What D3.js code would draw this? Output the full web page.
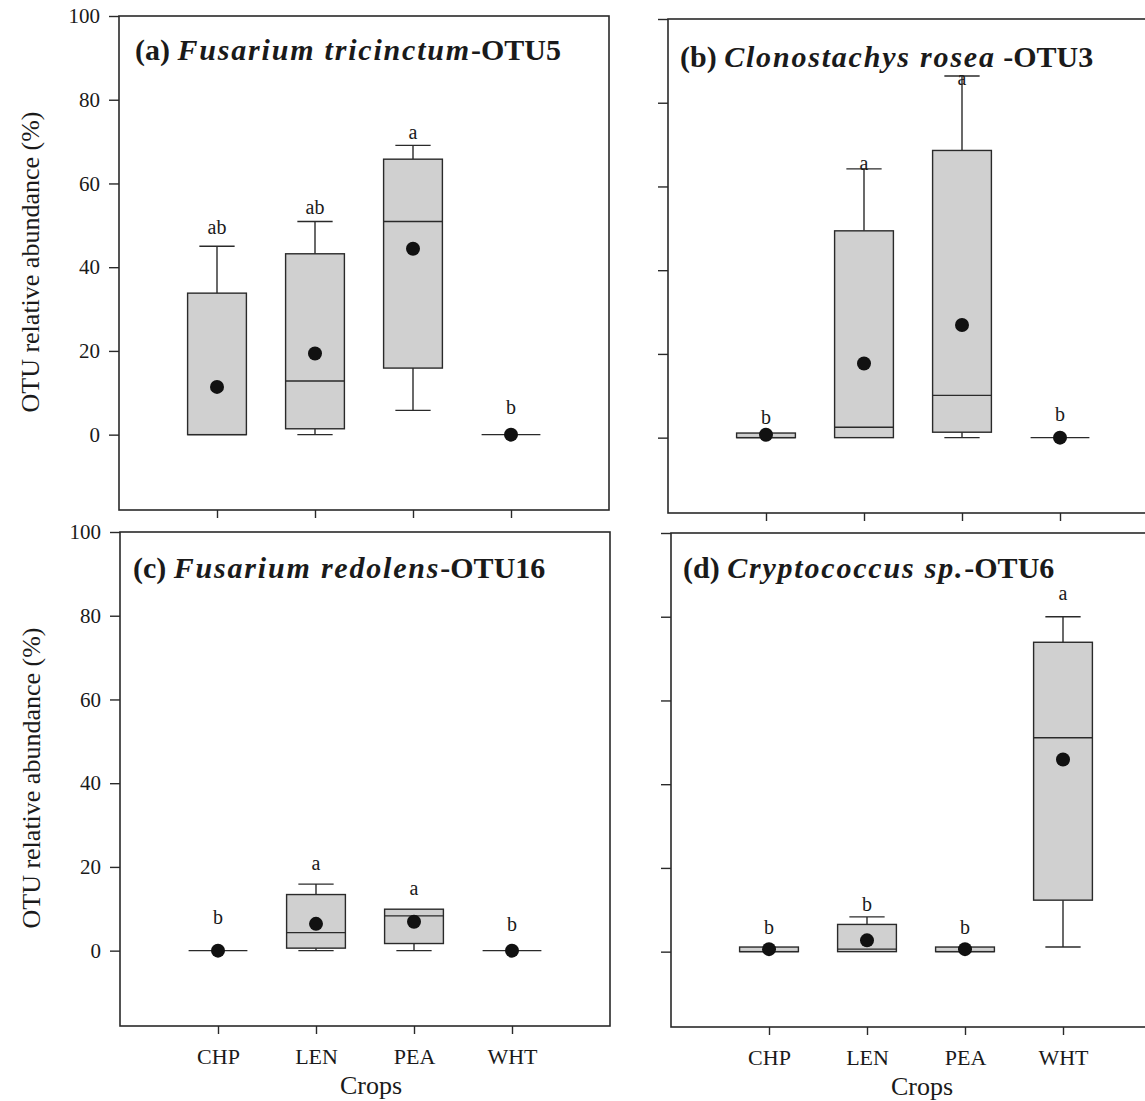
<!DOCTYPE html>
<html>
<head>
<meta charset="utf-8">
<script src="https://cdn.jsdelivr.net/npm/d3@7"></script>
<style>
  body { margin: 0; background: #fff; }
  svg text { font-family: "Liberation Serif", "Times New Roman", serif; fill: #1a1a1a; }
</style>
</head>
<body>
<div class="canvas"></div>
<script>
// categories and tick labels
const crops = ['CHP', 'LEN', 'PEA', 'WHT'];
const yTicks = [0, 20, 40, 60, 80, 100];

// (a) Fusarium tricinctum - OTU5
const lowA = [0, 0, 5.8, 0];
const q1A = [0, 1.4, 15.9, 0];
const medA = [0, 12.8, 50.9, 0];
const q3A = [33.8, 43.2, 65.8, 0];
const highA = [45, 50.9, 69.1, 0];
const meanA = [11.4, 19.4, 44.4, 0];
const lettersA = ['ab', 'ab', 'a', 'b'];
const letterAtA = [49.7, 54.4, 72.4, 6.5];

// (b) Clonostachys rosea - OTU3
const lowB = [0, 0, 0, 0];
const q1B = [0, 0, 1.3, 0];
const medB = [0, 2.5, 10.1, 0];
const q3B = [1.1, 49.4, 68.6, 0];
const highB = [1.1, 64.2, 86.4, 0];
const meanB = [0.7, 17.7, 26.9, 0];
const lettersB = ['b', 'a', 'a', 'b'];
const letterAtB = [4.9, 65.5, 85.9, 5.7];

// (c) Fusarium redolens - OTU16
const lowC = [0, 0, 0, 0];
const q1C = [0, 0.6, 1.7, 0];
const medC = [0, 4.3, 8.3, 0];
const q3C = [0, 13.4, 9.9, 0];
const highC = [0, 15.9, 9.9, 0];
const meanC = [0, 6.4, 6.9, 0];
const lettersC = ['b', 'a', 'a', 'b'];
const letterAtC = [8, 21, 15, 6.4];

// (d) Cryptococcus sp. - OTU6
const lowD = [0, 0, 0, 1.1];
const q1D = [0, 0, 0, 12.3];
const medD = [0, 0.6, 0, 51.1];
const q3D = [1.1, 6.5, 1.1, 73.9];
const highD = [1.1, 8.3, 1.1, 80];
const meanD = [0.6, 2.7, 0.6, 45.9];
const lettersD = ['b', 'b', 'b', 'a'];
const letterAtD = [6, 11.5, 6, 85.6];

const build = (low, q1, med, q3, high, mean, letters, letterAt) =>
  crops.map((c, i) => ({
    crop: c, low: low[i], q1: q1[i], med: med[i], q3: q3[i],
    high: high[i], mean: mean[i], letter: letters[i], letterAt: letterAt[i]
  }));

const panels = [
  { left: 119, top: 16, title: [['(a) ', false], ['Fusarium tricinctum', true], ['-OTU5', false]],
    tx: 16, ty: 44, yLabels: true, xLabels: false,
    data: build(lowA, q1A, medA, q3A, highA, meanA, lettersA, letterAtA) },
  { left: 668, top: 19, title: [['(b) ', false], ['Clonostachys rosea', true], [' -OTU3', false]],
    tx: 12, ty: 48, yLabels: false, xLabels: false,
    data: build(lowB, q1B, medB, q3B, highB, meanB, lettersB, letterAtB) },
  { left: 120, top: 532, title: [['(c) ', false], ['Fusarium redolens', true], ['-OTU16', false]],
    tx: 13, ty: 46, yLabels: true, xLabels: true,
    data: build(lowC, q1C, medC, q3C, highC, meanC, lettersC, letterAtC) },
  { left: 671, top: 533, title: [['(d) ', false], ['Cryptococcus sp.', true], ['-OTU6', false]],
    tx: 12, ty: 45, yLabels: false, xLabels: true,
    data: build(lowD, q1D, medD, q3D, highD, meanD, lettersD, letterAtD) }
];

// set up dimensions
const width = 1145;
const height = 1101;
const graphWidth = 490;
const graphHeight = 494;
const ink = '#2a2a2a';

const svg = d3
  .select('.canvas')
  .append('svg')
  .attr('width', width)
  .attr('height', height);

// scales shared by every panel
const x = d3.scalePoint().domain(crops).range([0, graphWidth]).padding(1);
const y = d3.scaleLinear().domain([-18, 100]).range([graphHeight, 0]);
const boxW = x.step() * 0.6;
const capW = x.step() * 0.36;

panels.forEach(p => {
  const graph = svg.append('g').attr('transform', `translate(${p.left}, ${p.top})`);

  // axes
  const yAxis = d3.axisLeft(y).tickValues(yTicks).tickSize(10).tickPadding(9)
    .tickFormat(p.yLabels ? d3.format('d') : '');
  const yAxisGroup = graph.append('g').call(yAxis);
  yAxisGroup.select('.domain').remove();
  yAxisGroup.selectAll('line').attr('stroke', ink).attr('stroke-width', 1.4);
  yAxisGroup.selectAll('text').attr('font-size', 21).attr('fill', '#1a1a1a')
    .attr('font-family', '"Liberation Serif", serif');

  const xAxis = d3.axisBottom(x).tickSize(8).tickPadding(14)
    .tickFormat(p.xLabels ? d => d : '');
  const xAxisGroup = graph.append('g').attr('transform', `translate(0, ${graphHeight})`).call(xAxis);
  xAxisGroup.select('.domain').remove();
  xAxisGroup.selectAll('line').attr('stroke', ink).attr('stroke-width', 1.4);
  xAxisGroup.selectAll('text').attr('font-size', 22).attr('fill', '#1a1a1a')
    .attr('font-family', '"Liberation Serif", serif');

  // frame
  graph.append('rect')
    .attr('width', graphWidth).attr('height', graphHeight)
    .attr('fill', 'none').attr('stroke', ink).attr('stroke-width', 1.6);

  // title
  const title = graph.append('text')
    .attr('x', p.tx).attr('y', p.ty)
    .attr('font-size', 30).attr('font-weight', 'bold');
  p.title.forEach(([t, it]) => {
    title.append('tspan').text(t)
      .attr('font-style', it ? 'italic' : 'normal')
      .attr('letter-spacing', it ? 1.8 : 0);
  });

  const groups = graph.selectAll('g.crop').data(p.data).enter()
    .append('g').attr('class', 'crop')
    .attr('transform', d => `translate(${x(d.crop)}, 0)`);

  // upper whiskers
  const up = groups.filter(d => d.high > d.q3);
  up.append('line').attr('y1', d => y(d.q3)).attr('y2', d => y(d.high))
    .attr('stroke', ink).attr('stroke-width', 1.4);
  up.append('line').attr('x1', -capW / 2).attr('x2', capW / 2)
    .attr('y1', d => y(d.high)).attr('y2', d => y(d.high))
    .attr('stroke', ink).attr('stroke-width', 1.4);

  // lower whiskers
  const down = groups.filter(d => d.low < d.q1);
  down.append('line').attr('y1', d => y(d.q1)).attr('y2', d => y(d.low))
    .attr('stroke', ink).attr('stroke-width', 1.4);
  down.append('line').attr('x1', -capW / 2).attr('x2', capW / 2)
    .attr('y1', d => y(d.low)).attr('y2', d => y(d.low))
    .attr('stroke', ink).attr('stroke-width', 1.4);

  // boxes
  groups.append('rect')
    .attr('x', -boxW / 2).attr('width', boxW)
    .attr('y', d => y(d.q3)).attr('height', d => y(d.q1) - y(d.q3))
    .attr('fill', '#d0d0d0').attr('stroke', ink).attr('stroke-width', 1.4);

  // median
  groups.append('line')
    .attr('x1', -boxW / 2).attr('x2', boxW / 2)
    .attr('y1', d => y(d.med)).attr('y2', d => y(d.med))
    .attr('stroke', ink).attr('stroke-width', 1.4);

  // mean
  groups.append('circle').attr('r', 7).attr('cy', d => y(d.mean)).attr('fill', '#111');

  // significance letters
  groups.append('text')
    .attr('y', d => y(d.letterAt)).attr('dy', '0.35em')
    .attr('text-anchor', 'middle').attr('font-size', 20)
    .text(d => d.letter);

  // x title
  if (p.xLabels) {
    graph.append('text')
      .attr('x', graphWidth / 2 + 6).attr('y', graphHeight + 68)
      .attr('text-anchor', 'middle').attr('font-size', 26)
      .text('Crops');
  }

  // y title
  if (p.yLabels) {
    graph.append('text')
      .attr('transform', `translate(-89, 246) rotate(-90)`)
      .attr('text-anchor', 'middle').attr('dy', '0.35em').attr('font-size', 26)
      .text('OTU relative abundance (%)');
  }
});
</script>
</body>
</html>
